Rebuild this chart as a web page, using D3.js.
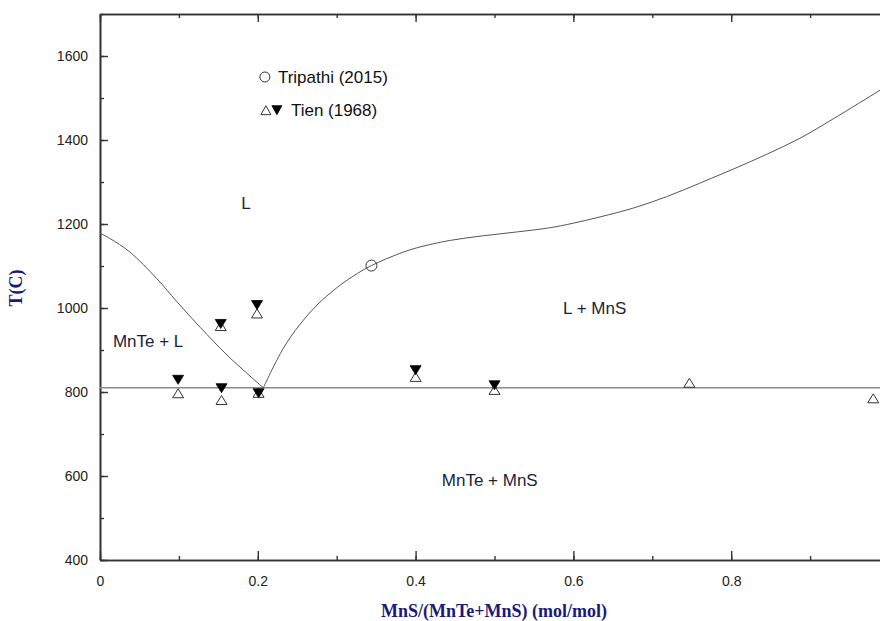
<!DOCTYPE html>
<html><head><meta charset="utf-8">
<script src="https://cdn.jsdelivr.net/npm/d3@7"></script>
<style>body{margin:0;background:#fff}svg{display:block}</style>
</head><body>
<svg id="c" width="880" height="621"></svg>
<script>
// ---- data ----
const xTicks = [0, 0.2, 0.4, 0.6, 0.8];
const xTickLabels = ["0", "0.2", "0.4", "0.6", "0.8"];
const yTicks = [400, 600, 800, 1000, 1200, 1400, 1600];
const yTickLabels = ["400", "600", "800", "1000", "1200", "1400", "1600"];
const eutecticT = 810;
const liquidusLeft = [[0,1178],[0.013,1165],[0.038,1133],[0.072,1070],[0.097,1016],[0.127,954],[0.161,888],[0.186,845],[0.207,810]];
const liquidusRight = [[0.207,810],[0.232,903],[0.253,960],[0.275,1007],[0.300,1048],[0.321,1076],[0.344,1101],[0.380,1130],[0.401,1143],[0.444,1161],[0.486,1172],[0.528,1181],[0.570,1191],[0.600,1202],[0.634,1217],[0.676,1238],[0.718,1265],[0.760,1297],[0.803,1331],[0.845,1366],[0.887,1404],[0.929,1450],[0.989,1519],[1.0,1532]];
const tripathi = [[0.344,1101]];
const tienOpen = [[0.099,797],[0.153,957],[0.154,781],[0.199,987],[0.201,798],[0.400,836],[0.500,805],[0.747,822],[0.980,785]];
const tienFilled = [[0.099,829],[0.153,962],[0.154,809],[0.199,1007],[0.201,797],[0.400,852],[0.500,816]];
const regionLabels = [["L",0.185,1250],["MnTe + L",0.061,921],["L + MnS",0.627,1000],["MnTe + MnS",0.494,590]];
const legendItems = [["Tripathi (2015)",0.209,1550],["Tien (1968)",0.209,1471]];

// ---- chart ----
const svg = d3.select("#c");
const x = d3.scaleLinear().domain([0,1]).range([100,889]);
const y = d3.scaleLinear().domain([400,1700]).range([560,14]);
const axisCol = "#333";
const font = "'Liberation Sans', Arial, sans-serif";

const g = svg.append("g");
function styleAxis(sel){
  sel.select(".domain").attr("stroke",axisCol).attr("stroke-width",1.6);
  sel.selectAll(".tick line").attr("stroke",axisCol).attr("stroke-width",1.4);
  sel.selectAll("text").attr("font-family",font).attr("font-size",14).attr("fill","#222");
}
const minorX = d3.range(0,1.0001,0.1);
const minorY = d3.range(400,1701,100);
g.append("g").attr("transform","translate(0,560)")
  .call(d3.axisBottom(x).tickValues(minorX).tickSize(-4).tickFormat("").tickSizeOuter(0))
  .call(styleAxis);
g.append("g").attr("transform","translate(0,560)")
  .call(d3.axisBottom(x).tickValues(xTicks).tickSize(-9).tickPadding(16).tickSizeOuter(0)
    .tickFormat((d,i)=>xTickLabels[i]))
  .call(s=>{styleAxis(s);s.selectAll("text").attr("dy","0.71em");});
g.append("g").attr("transform","translate(0,14)")
  .call(d3.axisTop(x).tickValues(minorX).tickSize(-4).tickFormat("").tickSizeOuter(0))
  .call(styleAxis);
g.append("g").attr("transform","translate(0,14)")
  .call(d3.axisTop(x).tickValues(xTicks.concat([1])).tickSize(-8).tickFormat("").tickSizeOuter(0))
  .call(styleAxis);
g.append("g").attr("transform","translate(100,0)")
  .call(d3.axisLeft(y).tickValues(minorY).tickSize(-4).tickFormat("").tickSizeOuter(0))
  .call(styleAxis);
g.append("g").attr("transform","translate(100,0)")
  .call(d3.axisLeft(y).tickValues(yTicks).tickSize(-8).tickPadding(12).tickSizeOuter(0)
    .tickFormat((d,i)=>yTickLabels[i]))
  .call(styleAxis);
g.append("g").attr("transform","translate(889,0)")
  .call(d3.axisRight(y).tickValues(yTicks).tickSize(-8).tickFormat("").tickSizeOuter(0))
  .call(styleAxis);

// eutectic line
svg.append("line").attr("x1",x(0)).attr("x2",x(1)).attr("y1",y(eutecticT)).attr("y2",y(eutecticT))
  .attr("stroke","#8a8a8a").attr("stroke-width",1.5);

// liquidus curves
const line = d3.line().x(d=>x(d[0])).y(d=>y(d[1])).curve(d3.curveCatmullRom.alpha(0.5));
[liquidusLeft, liquidusRight].forEach(arr=>{
  svg.append("path").attr("d",line(arr)).attr("fill","none").attr("stroke","#555").attr("stroke-width",1);
});

// markers
function triUp(cx,cy,w,h){return `M${cx-w/2},${cy+h/2}L${cx+w/2},${cy+h/2}L${cx},${cy-h/2}Z`;}
function triDown(cx,cy,w,h){return `M${cx-w/2},${cy-h/2}L${cx+w/2},${cy-h/2}L${cx},${cy+h/2}Z`;}
svg.append("g").selectAll("path").data(tienOpen).join("path")
  .attr("d",d=>triUp(x(d[0]),y(d[1]),11,9)).attr("fill","#fff").attr("stroke","#333").attr("stroke-width",1);
svg.append("g").selectAll("path").data(tienFilled).join("path")
  .attr("d",d=>triDown(x(d[0]),y(d[1]),11,9)).attr("fill","#000").attr("stroke","#000").attr("stroke-width",0.8);
svg.append("g").selectAll("circle").data(tripathi).join("circle")
  .attr("cx",d=>x(d[0])).attr("cy",d=>y(d[1])).attr("r",5.5).attr("fill","none").attr("stroke","#333").attr("stroke-width",1);

// region labels
svg.append("g").selectAll("text").data(regionLabels).join("text")
  .attr("x",d=>x(d[1])).attr("y",d=>y(d[2])).attr("dy","0.35em").attr("text-anchor","middle")
  .attr("font-family",font).attr("font-size",17).attr("fill","#1a1f40").text(d=>d[0]);

// legend
const L0 = legendItems[0], L1 = legendItems[1];
svg.append("circle").attr("cx",x(L0[1])).attr("cy",y(L0[2])).attr("r",5).attr("fill","none").attr("stroke","#333").attr("stroke-width",1);
svg.append("text").attr("x",x(L0[1])+13).attr("y",y(L0[2])).attr("dy","0.35em")
  .attr("font-family",font).attr("font-size",17).attr("fill","#111").text(L0[0]);
svg.append("path").attr("d",triUp(x(L1[1])+1,y(L1[2]),10,9)).attr("fill","#fff").attr("stroke","#333").attr("stroke-width",1);
svg.append("path").attr("d",triDown(x(L1[1])+12,y(L1[2]),10,9)).attr("fill","#000").attr("stroke","#000").attr("stroke-width",0.8);
svg.append("text").attr("x",x(L1[1])+26).attr("y",y(L1[2])).attr("dy","0.35em")
  .attr("font-family",font).attr("font-size",17).attr("fill","#111").text(L1[0]);

// axis titles
const serif = "'Liberation Serif','Times New Roman',serif";
svg.append("text").attr("transform","translate(22,288) rotate(-90)").attr("text-anchor","middle")
  .attr("font-family",serif).attr("font-weight","bold").attr("font-size",18).attr("fill","#1a1a7a").text("T(C)");
svg.append("text").attr("x",494).attr("y",617).attr("text-anchor","middle")
  .attr("font-family",serif).attr("font-weight","bold").attr("font-size",18).attr("fill","#1a1a7a")
  .text("MnS/(MnTe+MnS) (mol/mol)");
</script>
</body></html>
